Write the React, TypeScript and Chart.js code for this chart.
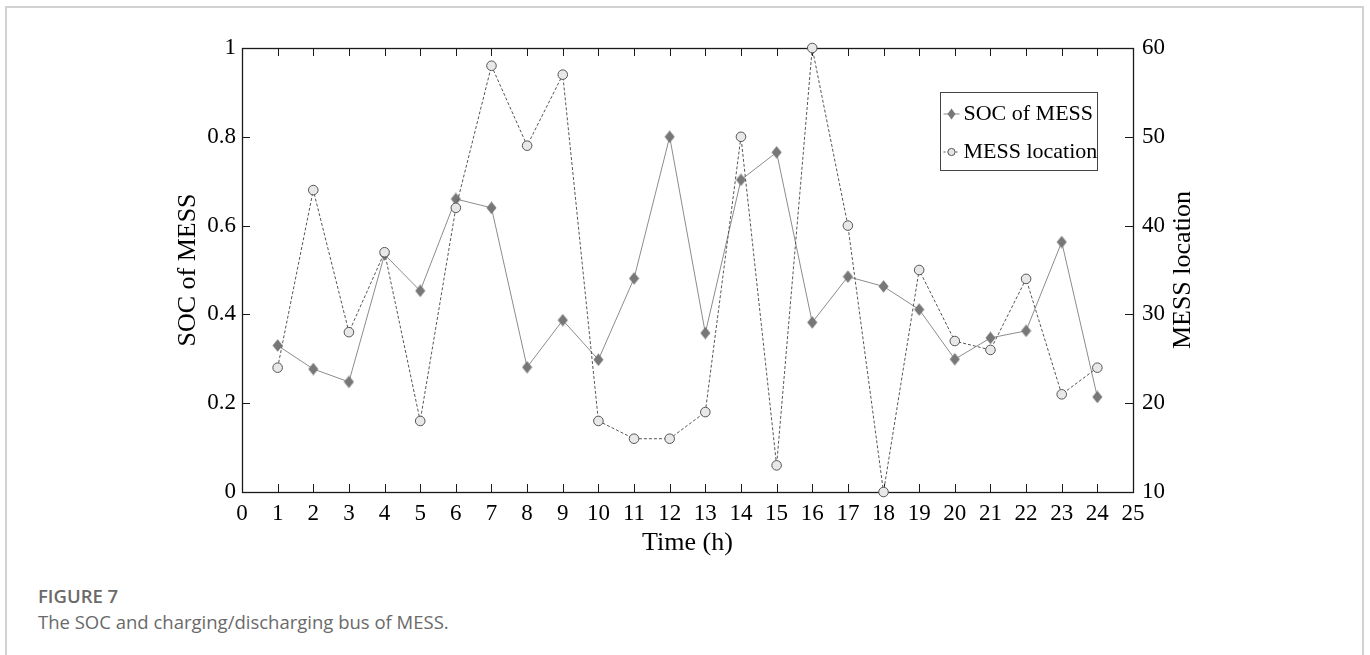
import React, { useEffect, useRef } from "react";
import { Chart, registerables } from "chart.js";

Chart.register(...registerables);

const hours = [1, 2, 3, 4, 5, 6, 7, 8, 9, 10, 11, 12, 13, 14, 15, 16, 17, 18, 19, 20, 21, 22, 23, 24];
const socOfMess = [0.33, 0.277, 0.248, 0.535, 0.453, 0.66, 0.64, 0.281, 0.387, 0.298, 0.481, 0.8, 0.358, 0.703, 0.765, 0.382, 0.485, 0.463, 0.411, 0.299, 0.347, 0.363, 0.563, 0.214];
const messLocation = [24, 44, 28, 37, 18, 42, 58, 49, 57, 18, 16, 16, 19, 50, 13, 60, 40, 10, 35, 27, 26, 34, 21, 24];
const seriesLabels = ["SOC of MESS", "MESS location"];
const xAxisTitle = "Time (h)";
const leftAxisTitle = "SOC of MESS";
const rightAxisTitle = "MESS location";
const captionTitle = "FIGURE 7";
const captionText = "The SOC and charging/discharging bus of MESS.";

const SERIF = "'Liberation Serif', 'Times New Roman', serif";

function drawDiamond(ctx: CanvasRenderingContext2D, cx: number, cy: number, rx: number, ry: number) {
  ctx.beginPath();
  ctx.moveTo(cx, cy - ry);
  ctx.lineTo(cx + rx, cy);
  ctx.lineTo(cx, cy + ry);
  ctx.lineTo(cx - rx, cy);
  ctx.closePath();
}

function makeDiamondImage(): HTMLCanvasElement {
  const c = document.createElement("canvas");
  c.width = 11;
  c.height = 13;
  const g = c.getContext("2d") as CanvasRenderingContext2D;
  g.fillStyle = "#777777";
  drawDiamond(g, 5.5, 6.5, 5, 6.3);
  g.fill();
  return c;
}

const frameTicksPlugin = {
  id: "frameTicks",
  beforeDatasetsDraw(chart: any) {
    const { ctx, chartArea } = chart;
    const { left, right, top, bottom } = chartArea;
    const { x, y, y1 } = chart.scales;
    const L = 8;
    ctx.save();
    ctx.strokeStyle = "#1a1a1a";
    ctx.lineWidth = 1;
    ctx.beginPath();
    x.ticks.forEach((t: any) => {
      const px = Math.round(x.getPixelForValue(t.value)) + 0.5;
      ctx.moveTo(px, bottom);
      ctx.lineTo(px, bottom - L);
      ctx.moveTo(px, top);
      ctx.lineTo(px, top + L);
    });
    y.ticks.forEach((t: any) => {
      const py = Math.round(y.getPixelForValue(t.value)) + 0.5;
      ctx.moveTo(left, py);
      ctx.lineTo(left + L, py);
    });
    y1.ticks.forEach((t: any) => {
      const py = Math.round(y1.getPixelForValue(t.value)) + 0.5;
      ctx.moveTo(right, py);
      ctx.lineTo(right - L, py);
    });
    ctx.stroke();
    ctx.lineWidth = 1.3;
    ctx.strokeRect(Math.round(left) + 0.5, Math.round(top) + 0.5, Math.round(right - left), Math.round(bottom - top));
    ctx.restore();
  },
  afterDraw(chart: any) {
    // right axis title, reading bottom-to-top like the left one
    const { ctx, chartArea } = chart;
    ctx.save();
    ctx.translate(chartArea.right + 50, (chartArea.top + chartArea.bottom) / 2);
    ctx.rotate(-Math.PI / 2);
    ctx.font = "26px " + SERIF;
    ctx.fillStyle = "#000";
    ctx.textAlign = "center";
    ctx.textBaseline = "middle";
    ctx.fillText(rightAxisTitle, 0, 0);
    ctx.restore();
  },
};

const boxLegendPlugin = {
  id: "boxLegend",
  afterDraw(chart: any) {
    const { ctx, chartArea } = chart;
    const w = 157;
    const h = 78;
    const bx = Math.round(chartArea.right - 36 - w) + 0.5;
    const by = Math.round(chartArea.top + 44) + 0.5;
    ctx.save();
    ctx.fillStyle = "#ffffff";
    ctx.fillRect(bx, by, w, h);
    ctx.strokeStyle = "#444";
    ctx.lineWidth = 1;
    ctx.strokeRect(bx, by, w, h);
    ctx.font = "22px " + SERIF;
    ctx.textBaseline = "middle";
    ctx.textAlign = "left";
    const rows = [by + 21.5, by + 59.5];
    ctx.strokeStyle = "#8a8a8a";
    ctx.setLineDash([]);
    ctx.beginPath();
    ctx.moveTo(bx + 3, rows[0]);
    ctx.lineTo(bx + 19, rows[0]);
    ctx.stroke();
    ctx.fillStyle = "#777";
    drawDiamond(ctx, bx + 11, rows[0], 4, 5.5);
    ctx.fill();
    ctx.strokeStyle = "#555";
    ctx.setLineDash([2, 2]);
    ctx.beginPath();
    ctx.moveTo(bx + 3, rows[1]);
    ctx.lineTo(bx + 19, rows[1]);
    ctx.stroke();
    ctx.setLineDash([]);
    ctx.beginPath();
    ctx.arc(bx + 11, rows[1], 3.6, 0, Math.PI * 2);
    ctx.fillStyle = "#e6e6e6";
    ctx.fill();
    ctx.strokeStyle = "#555";
    ctx.stroke();
    ctx.fillStyle = "#000";
    ctx.fillText(seriesLabels[0], bx + 23, rows[0]);
    ctx.fillText(seriesLabels[1], bx + 23, rows[1]);
    ctx.restore();
  },
};

export default function App() {
  const canvasRef = useRef<HTMLCanvasElement | null>(null);

  useEffect(() => {
    const canvas = canvasRef.current;
    if (!canvas) return;
    const diamond = makeDiamondImage();
    const chart = new Chart(canvas, {
      type: "line",
      data: {
        datasets: [
          {
            label: seriesLabels[0],
            data: hours.map((h, i) => ({ x: h, y: socOfMess[i] })),
            yAxisID: "y",
            borderColor: "#8c8c8c",
            borderWidth: 1,
            backgroundColor: "#777777",
            pointStyle: diamond,
            pointRadius: 6,
            pointBorderWidth: 0,
            pointBackgroundColor: "#777777",
            pointBorderColor: "#777777",
            tension: 0,
            clip: false,
            order: 1,
          },
          {
            label: seriesLabels[1],
            data: hours.map((h, i) => ({ x: h, y: messLocation[i] })),
            yAxisID: "y1",
            borderColor: "#555555",
            borderWidth: 1,
            borderDash: [3, 2],
            pointStyle: "circle",
            pointRadius: 4.8,
            pointBorderWidth: 1,
            pointBackgroundColor: "#e8e8e8",
            pointBorderColor: "#555555",
            tension: 0,
            clip: false,
            order: 0,
          },
        ],
      },
      options: {
        responsive: false,
        animation: false,
        events: [],
        layout: { padding: { top: 48, left: 0, right: 0, bottom: 0 } },
        plugins: {
          legend: { display: false },
          tooltip: { enabled: false },
        },
        scales: {
          x: {
            type: "linear",
            position: "bottom",
            min: 0,
            max: 25,
            grid: { display: false, drawTicks: false },
            border: { display: false },
            ticks: {
              stepSize: 1,
              autoSkip: false,
              maxRotation: 0,
              padding: 8,
              color: "#000",
              font: { family: SERIF, size: 23 },
            },
            title: {
              display: true,
              text: xAxisTitle,
              color: "#000",
              font: { family: SERIF, size: 26 },
              padding: { top: 0, bottom: 1 },
            },
            afterFit(scale: any) {
              scale.height = 68;
            },
          },
          y: {
            type: "linear",
            position: "left",
            min: 0,
            max: 1,
            grid: { display: false, drawTicks: false },
            border: { display: false },
            ticks: {
              stepSize: 0.2,
              padding: 6,
              color: "#000",
              font: { family: SERIF, size: 23 },
              callback: (v: any) => String(Math.round(Number(v) * 10) / 10),
            },
            title: {
              display: true,
              text: leftAxisTitle,
              color: "#000",
              font: { family: SERIF, size: 26 },
              padding: { top: 173, bottom: 0 },
            },
            afterFit(scale: any) {
              scale.width = 242;
            },
          },
          y1: {
            type: "linear",
            position: "right",
            min: 10,
            max: 60,
            grid: { display: false, drawTicks: false },
            border: { display: false },
            ticks: {
              stepSize: 10,
              padding: 9,
              color: "#000",
              font: { family: SERIF, size: 23 },
            },
            title: { display: false },
            afterFit(scale: any) {
              scale.width = 237;
            },
          },
        },
      } as any,
      plugins: [frameTicksPlugin, boxLegendPlugin],
    });
    return () => chart.destroy();
  }, []);

  return (
    <div style={{ position: "absolute", left: 0, top: 0, width: 1370, height: 655, overflow: "hidden", background: "#fff" }}>
      <div
        style={{
          position: "absolute",
          left: 5,
          top: 6,
          width: 1359,
          height: 720,
          border: "2px solid #d2d2d2",
          borderBottom: "none",
          boxSizing: "border-box",
        }}
      />
      <canvas ref={canvasRef} width={1370} height={560} style={{ position: "absolute", left: 0, top: 0, width: 1370, height: 560 }} />
      <div
        style={{
          position: "absolute",
          left: 38,
          top: 583,
          fontFamily: "'Open Sans', sans-serif",
          color: "#6a6a6a",
          lineHeight: "26px",
        }}
      >
        <div style={{ fontSize: 18.5, fontWeight: 600 }}>{captionTitle}</div>
        <div style={{ fontSize: 18.5 }}>{captionText}</div>
      </div>
    </div>
  );
}
